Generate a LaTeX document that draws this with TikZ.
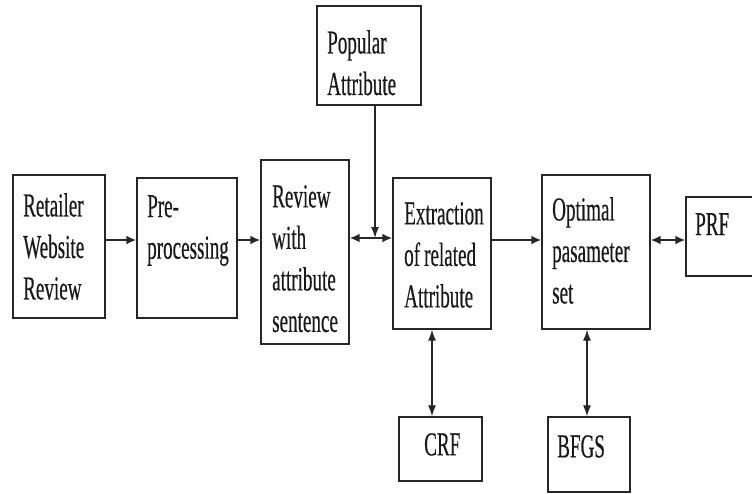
\documentclass[tikz,border=0pt]{standalone}
\usepackage{fontspec}
\setmainfont[FakeStretch=0.57,FakeBold=0.4]{Liberation Serif}
\usetikzlibrary{arrows.meta,calc}
\begin{document}
\begin{tikzpicture}[x=1pt,y=-1pt,
  box/.style={draw=black!85, line width=1.4pt, inner sep=0pt, rectangle},
  txt/.style={anchor=north west, inner sep=0pt, align=left, text=black!90,
              font=\fontsize{33.5}{41.5}\selectfont},
  tip/.style={},
  harr/.style={line width=1.9pt, draw=black!85, -{Latex[length=10pt,width=9pt]}},
  hdbl/.style={line width=1.9pt, draw=black!85, {Latex[length=10pt,width=9pt]}-{Latex[length=10pt,width=9pt]}},
  varr/.style={line width=1.3pt, draw=black!85, -{Latex[length=11pt,width=8pt]}},
  vdbl/.style={line width=1.3pt, draw=black!85, {Latex[length=11pt,width=8pt]}-{Latex[length=11pt,width=8pt]}}]
\useasboundingbox (0,0) rectangle (752,493);
% boxes
\node[box, minimum width=92pt, minimum height=143pt] (ret) at (59,246.5) {};
\node[box, minimum width=100pt, minimum height=140pt] (pre) at (187,248) {};
\node[box, minimum width=88pt, minimum height=184pt] (rev) at (305,252) {};
\node[box, minimum width=104pt, minimum height=99pt] (pop) at (369,55.5) {};
\node[box, minimum width=98pt, minimum height=151pt] (ext) at (442,253.5) {};
\node[box, minimum width=108pt, minimum height=154pt] (opt) at (596,252) {};
\node[box, minimum width=70pt, minimum height=79pt] (prf) at (721,236.5) {};
\node[box, minimum width=83pt, minimum height=64pt] (crf) at (440.5,449) {};
\node[box, minimum width=82pt, minimum height=75pt] (bfgs) at (589,454.5) {};
% texts
\node[txt] (tret) at (23,193) {Retailer\\Website\\Review};
\node[txt] (tpre) at (147,195) {Pre-\\processing};
\node[txt] (trev) at (272,185) {Review\\with\\attribute\\sentence};
\node[txt] (tpop) at (327,30) {Popular\\Attribute};
\node[txt] (text) at (404,202) {Extraction\\of\kern0.12em related\\Attribute};
\node[txt] (topt) at (552,197) {Optimal\\pasameter\\set};
\node[txt] (tprf) at (695,213) {PRF};
\node[txt] (tcrf) at (424,433) {CRF};
\node[txt] (tbfgs) at (557,435) {BFGS};
% helper coordinates
\coordinate (h240) at (0,240);
\coordinate (h238) at (0,238);
\coordinate (j) at (375,238);
\coordinate (v432) at (432,0);
\coordinate (v587) at (587,0);
% connectors
\draw[harr] (ret.east |- h240) -- (pre.west |- h240);
\draw[harr] (pre.east |- h240) -- (rev.west |- h240);
\draw[hdbl] (rev.east |- h238) -- (ext.west |- h238);
\draw[varr] (pop.south -| j) -- (j);
\draw[harr] (ext.east |- h240) -- (opt.west |- h240);
\draw[hdbl] (opt.east |- h240) -- (prf.west |- h240);
\draw[vdbl] (ext.south -| v432) -- (crf.north -| v432);
\draw[vdbl] (opt.south -| v587) -- (bfgs.north -| v587);
\end{tikzpicture}
\end{document}
